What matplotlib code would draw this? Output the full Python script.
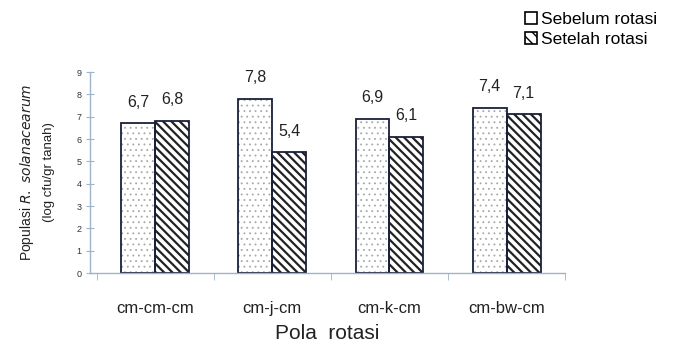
import numpy as np
import matplotlib
matplotlib.use("Agg")
import matplotlib.pyplot as plt
from matplotlib.patches import Patch

plt.rcParams["font.family"] = ["Liberation Sans", "DejaVu Sans"]

# populasi per pola rotasi (log cfu/gr tanah)
categories = ["cm-cm-cm", "cm-j-cm", "cm-k-cm", "cm-bw-cm"]
sebelum = [6.7, 7.8, 6.9, 7.4]
setelah = [6.8, 5.4, 6.1, 7.1]
yticks = list(range(0, 10))

axis_col = "#9fb3c8"
edge_col = "#1a1f3a"
w = 0.29

fig = plt.figure(figsize=(6.79, 3.48), dpi=100)
ax = fig.add_axes([0.1325, 0.215, 0.700, 0.578])

x = np.arange(len(categories))
xa = x - w / 2
xb = x + w / 2

# fills (hatch colour follows edgecolor), then outlines on top
with plt.rc_context({"hatch.linewidth": 0.6}):
    ax.bar(xa, sebelum, w, color="white", edgecolor="#a8a8a8", hatch="...", linewidth=0)
with plt.rc_context({"hatch.linewidth": 1.6}):
    ax.bar(xb, setelah, w, color="white", edgecolor="#222222", hatch="\\\\\\\\", linewidth=0)
ax.bar(xa, sebelum, w, fill=False, edgecolor=edge_col, linewidth=1.3)
ax.bar(xb, setelah, w, fill=False, edgecolor=edge_col, linewidth=1.3)

for xs, vals in ((xa, sebelum), (xb, setelah)):
    for xi, v in zip(xs, vals):
        ax.annotate(f"{v:.1f}".replace(".", ","), (xi, v), xytext=(0, 10),
                    textcoords="offset points", ha="center", va="bottom",
                    fontsize=11.5, color="#222222")

ax.set_xlim(-0.556, 3.5)
ax.set_ylim(0, 9)
ax.set_yticks(yticks)
ax.set_yticklabels([str(t) for t in yticks], fontsize=6.5, color="#333333")
ax.set_xticks(x)
ax.set_xticklabels(categories, fontsize=12, color="#222222")
ax.set_xticks(np.arange(-0.5, 3.6, 1.0), minor=True)
ax.tick_params(axis="x", which="major", length=0, pad=20)
ax.tick_params(axis="x", which="minor", length=5, color=axis_col, direction="out")
ax.tick_params(axis="y", length=6, color=axis_col, direction="inout", pad=3)

for s in ("top", "right"):
    ax.spines[s].set_visible(False)
for s in ("left", "bottom"):
    ax.spines[s].set_color(axis_col)
    ax.spines[s].set_linewidth(1.0)

ax.set_xlabel("Pola  rotasi", fontsize=15, color="#222222", labelpad=6)

fig.text(0.040, 0.505, r"Populasi $\it{R.\ solanacearum}$", rotation=90,
         ha="center", va="center", fontsize=10, color="#222222")
fig.text(0.072, 0.505, "(log cfu/gr tanah)", rotation=90,
         ha="center", va="center", fontsize=9.5, color="#222222")

handles = [Patch(facecolor="white", edgecolor="black", linewidth=1.2),
           Patch(facecolor="white", edgecolor="black", hatch="\\\\\\", linewidth=1.2)]
fig.legend(handles, ["Sebelum rotasi", "Setelah rotasi"], loc="upper left",
           bbox_to_anchor=(0.758, 0.995), frameon=False, fontsize=12.5,
           handlelength=0.7, handleheight=0.7, handletextpad=0.2,
           labelspacing=0.25, borderpad=0.1)

fig.savefig("out.png", dpi=100)
